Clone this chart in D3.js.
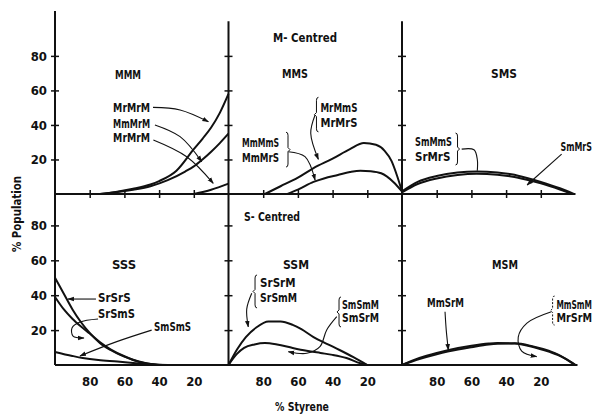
<!DOCTYPE html>
<html><head><meta charset="utf-8">
<script src="https://cdn.jsdelivr.net/npm/d3@7"></script>
<style>
body{margin:0;background:#fff}
text{font-family:"DejaVu Sans",sans-serif;font-stretch:condensed;font-weight:bold;fill:#111}
</style>
</head><body><svg id="c" width="597" height="416"></svg>
<script>
// ---------- data ----------
const xTicks = [80, 60, 40, 20];
const xTickLabels = ["80", "60", "40", "20"];
const yTicks = [20, 40, 60, 80];
const yTickLabels = ["20", "40", "60", "80"];
const groupTitles = ["M- Centred", "S- Centred"];
const panelNames = ["MMM", "MMS", "SMS", "SSS", "SSM", "MSM"];

// curves: [ % styrene, % population ]
const mmmMrMrM_a = [[74,0],[65,1.2],[55,3],[45,5.5],[40,7.5],[30,13.5],[20,26],[15,32],[10,38.5],[5,47],[0,58]];
const mmmMmMrM   = [[74,0],[65,1],[55,2.5],[45,4.5],[35,8],[25,13],[20,16],[15,20],[10,24.5],[5,29.5],[0,35]];
const mmmMrMrM_b = [[20,0],[10,2.5],[0,6]];

const mmsMrMmS = [[79,0],[70,4.5],[60,9.5],[51,15],[40,20.5],[30,26],[22,29.5],[15,28.5],[10,25],[6,19],[3,11],[0,1.5]];
const mmsMmMmS = [[66,0],[60,2.5],[51,7],[45,9],[37,11],[30,12.7],[24,13.5],[18,13.2],[12,12],[5,7],[0,1.5]];

const smsSmMmS = [[100,1.5],[91,7],[80,10.4],[68,12.4],[57,13],[45,12.5],[37,11.4],[28,9.3],[20,7],[9,3.3],[1,0]];
const smsSmMrS = [[100,1],[91,5.8],[80,9],[68,11],[57,11.7],[45,11.2],[37,10.2],[28,8.3],[20,6.2],[9,2.6],[2,0]];

const sssSrSrS = [[100,50],[95,41],[90,32],[85,24.5],[80,18.4],[74,12.5],[68,8.6],[60,4.8],[55,2.9],[48,1],[38,0]];
const sssSrSmS = [[100,39],[95,32],[90,26.5],[85,22],[80,18],[74,13],[68,9],[60,5],[55,3],[48,1.1],[40,0]];
const sssSmSmS = [[100,7.5],[90,5.2],[84,4],[75,2.8],[64,2],[55,1.2],[45,0.5],[35,0]];

const ssmSrSrM = [[100,0],[95,9],[90,16],[84,21.5],[77,25],[70,25],[63,23],[58,20.5],[51,16],[43,12],[36,8.6],[28,4.5],[20,0]];
const ssmSmSmM = [[100,0],[95,6.5],[91,9.8],[85,11.8],[79,12.6],[72,11.8],[63,9.8],[55,8.2],[47,6.9],[40,5.8],[32,4],[24,1],[20,0]];

const msmMmSrM = [[100,0],[90,4],[80,6.9],[73,8.6],[60,11],[50,12.3],[45,12.6],[35,12.3],[25,10.5],[15,7.5],[10,5.7],[5,3.2],[0,0]];
const msmMmSmM = [[100,0],[90,3.4],[80,6.2],[73,7.8],[60,10.2],[50,11.8],[45,12.2],[35,12.4],[25,10.8],[15,8],[10,6],[5,3],[0,0]];

// panel: [col,row]
const curves = [
  [0,0,mmmMrMrM_a],[0,0,mmmMmMrM],[0,0,mmmMrMrM_b],
  [1,0,mmsMrMmS],[1,0,mmsMmMmS],
  [2,0,smsSmMmS],[2,0,smsSmMrS],
  [0,1,sssSrSrS],[0,1,sssSrSmS],[0,1,sssSmSmS],
  [1,1,ssmSrSrM],[1,1,ssmSmSmM],
  [2,1,msmMmSrM],[2,1,msmMmSmM]
];

// labels: [col,row, styrene, pop, text]
const labels = [
  [0,0,66.5,47.5,"MrMrM"],[0,0,66.5,38.2,"MmMrM"],[0,0,66.5,30.1,"MrMrM"],
  [1,0,47,47.4,"MrMmS"],[1,0,47,38.7,"MrMrS"],
  [1,0,92.2,27.2,"MmMmS"],[1,0,92.2,18.5,"MmMrS"],
  [2,0,92.5,27.7,"SmMmS"],[2,0,92.5,19,"SrMrS"],
  [2,0,8.6,24.9,"SmMrS"],
  [0,1,75.2,36.1,"SrSrS"],[0,1,75.2,26.9,"SrSmS"],
  [0,1,42.9,19.5,"SmSmS"],
  [1,1,81.8,44.7,"SrSrM"],[1,1,81.8,36.1,"SrSmM"],
  [1,1,34.6,32.3,"SmSmM"],[1,1,34.6,24.4,"SmSrM"],
  [2,1,85.6,33.2,"MmSrM"],
  [2,1,11,32.3,"MmSmM"],[2,1,11,24.4,"MrSrM"]
];

// leader lines: [col,row, points, arrowhead]
const leaders = [
  [0,0,[[43.5,50.2],[27.9,48.7],[11.6,41.9]],true],
  [0,0,[[42.4,40],[27.9,33.2],[15.4,18.7]],true],
  [0,0,[[43.3,31.3],[24.1,21.6],[8.8,6.2]],true],
  [1,0,[[50.1,45.8],[52.6,35.2],[48.2,20.1]],true],
  [1,0,[[65.5,24.5],[55.9,21.6],[50.1,8.1]],true],
  [2,0,[[65.6,26],[58.5,25.6],[56.6,20],[56.6,13.5]],false],
  [2,0,[[8,23.1],[27.9,5.2]],true],
  [0,1,[[76.4,37.8],[92.5,37.8]],true],
  [0,1,[[75.2,26.4],[85.6,24.6],[90.2,21.2],[89.6,16.6],[83.3,15.5]],true],
  [0,1,[[44.3,20],[64.4,13.4],[85.6,5.2]],true],
  [1,1,[[86.6,41.1],[89.5,32],[88.6,21.9]],true],
  [1,1,[[37.6,27.7],[43.4,20.1],[47.3,10.5],[54.9,6.7],[65.5,7.6]],true],
  [2,1,[[75.2,30.5],[74.5,20],[73.3,8.6]],true],
  [2,1,[[13.9,30.5],[28,24],[33,16],[31,8],[22.4,4.8]],true]
];

// braces: [col,row, styrene, popTop, popBottom, side, dashed]
const braces = [
  [1,0,49.3,56,36,1,false],
  [1,0,65.7,35.8,15.6,-1,false],
  [2,0,68,35.3,16.8,-1,false],
  [1,1,84.7,51.6,32.7,1,false],
  [1,1,36.3,39,21.8,1,false],
  [2,1,13.2,39.5,22.9,1,true]
];

// ---------- layout ----------
const svg = d3.select("#c");
const left = 55, colW = 173.5;
const xs = [0,1,2].map(c => d3.scaleLinear().domain([100,0]).range([left + c*colW, left + (c+1)*colW]));
const ys = [
  d3.scaleLinear().domain([0,106]).range([194, 11]),
  d3.scaleLinear().domain([0,98]).range([365, 194])
];

const defs = svg.append("defs");
defs.append("marker").attr("id","ah").attr("viewBox","0 0 10 10").attr("refX",9).attr("refY",5)
  .attr("markerWidth",6).attr("markerHeight",6).attr("orient","auto")
  .append("path").attr("d","M0,1.5 L10,5 L0,8.5 z").attr("fill","#111");

const ink = "#111";

// place a text at (x,y), horizontally condensed to at most maxW (no condensed face installed)
function ctext(x, y, str, size, maxW, anchor, rot) {
  const el = svg.append("text").attr("text-anchor", anchor || "start").style("font-size", size + "px").text(str);
  const w = el.node().getComputedTextLength();
  const sx = w > maxW ? maxW / w : 1;
  el.attr("transform", `translate(${x},${y})` + (rot ? ` rotate(${rot})` : "") + ` scale(${sx},1)`);
  return el;
}

// vertical axes / dividers
[0,1,2].forEach(c => {
  const x0 = xs[c](100);
  const yTopPix = c === 0 ? ys[0](106) : ys[0](100);
  svg.append("line").attr("x1",x0).attr("x2",x0).attr("y1",yTopPix).attr("y2",ys[1](0))
    .attr("stroke",ink).attr("stroke-width",2);
  [0,1].forEach(r => {
    const ax = d3.axisLeft(ys[r]).tickValues(yTicks).tickSize(4).tickPadding(4)
      .tickFormat(c === 0 ? ((d,i) => yTickLabels[i]) : () => "");
    const g = svg.append("g").attr("transform",`translate(${x0},0)`).call(ax);
    g.select(".domain").remove();
    g.selectAll(".tick line").attr("x1",4).attr("stroke",ink).attr("stroke-width",1.5);
    g.selectAll(".tick text").style("font-size","13px").attr("fill",ink);
  });
});

// top-row baseline with crossing ticks
svg.append("line").attr("x1",xs[0](100)).attr("x2",xs[2](0)).attr("y1",ys[0](0)).attr("y2",ys[0](0))
  .attr("stroke",ink).attr("stroke-width",2);
[0,1,2].forEach(c => {
  const g = svg.append("g").attr("transform",`translate(0,${ys[0](0)})`)
    .call(d3.axisBottom(xs[c]).tickValues(xTicks).tickSize(4).tickFormat(() => ""));
  g.select(".domain").remove();
  g.selectAll(".tick line").attr("y1",-4).attr("stroke",ink).attr("stroke-width",1.5);
});

// bottom baseline with tick labels
svg.append("line").attr("x1",xs[0](100)).attr("x2",xs[2](0)+2).attr("y1",ys[1](0)).attr("y2",ys[1](0))
  .attr("stroke",ink).attr("stroke-width",2);
[0,1,2].forEach(c => {
  const g = svg.append("g").attr("transform",`translate(0,${ys[1](0)})`)
    .call(d3.axisBottom(xs[c]).tickValues(xTicks).tickSize(0).tickPadding(12).tickFormat((d,i) => xTickLabels[i]));
  g.select(".domain").remove();
  g.selectAll(".tick text").style("font-size","13px").attr("fill",ink);
});

// curves
curves.forEach(([c,r,data]) => {
  const line = d3.line().x(d => xs[c](d[0])).y(d => ys[r](d[1])).curve(d3.curveMonotoneX);
  svg.append("path").attr("d",line(data)).attr("fill","none").attr("stroke",ink).attr("stroke-width",2);
});

// panel titles
const titlePos = [[0,0,57.9,66.6],[1,0,61.7,67.2],[2,0,41.2,67.2],[0,1,60.2,55],[1,1,61.1,55],[2,1,40.6,55]];
titlePos.forEach((p,i) => ctext(xs[p[0]](p[2]), ys[p[1]](p[3]), panelNames[i], 13, 26, "middle"));
ctext(xs[1](55.9), ys[0](87.8), groupTitles[0], 13, 64, "middle");
ctext(xs[1](74.9), ys[1](82.5), groupTitles[1], 13, 56, "middle");

// labels
labels.forEach(([c,r,s,v,t]) => {
  const x = xs[c](s);
  ctext(x, ys[r](v), t, 11.5, Math.min(37, 592 - x));
});

// leaders
leaders.forEach(([c,r,pts,arrow]) => {
  const line = d3.line().x(d => xs[c](d[0])).y(d => ys[r](d[1])).curve(d3.curveCatmullRom);
  const p = svg.append("path").attr("d",line(pts)).attr("fill","none").attr("stroke",ink).attr("stroke-width",1.1);
  if (arrow) p.attr("marker-end","url(#ah)");
});

// braces
braces.forEach(([c,r,s,v1,v2,side,dashed]) => {
  const bx = xs[c](s), y1 = ys[r](v1), y2 = ys[r](v2), ym = (y1+y2)/2;
  const k = side;
  const d = `M${bx+2*k},${y1} Q${bx},${y1} ${bx},${y1+3} L${bx},${ym-2} L${bx-2*k},${ym} L${bx},${ym+2} L${bx},${y2-3} Q${bx},${y2} ${bx+2*k},${y2}`;
  const p = svg.append("path").attr("d",d).attr("fill","none").attr("stroke",ink).attr("stroke-width",1);
  if (dashed) p.attr("stroke-dasharray","2,1.5");
});

// axis titles
ctext(21, 214, "% Population", 13, 76, "middle", -90);
ctext(302, 411, "% Styrene", 13, 54, "middle");
</script>
</body></html>
